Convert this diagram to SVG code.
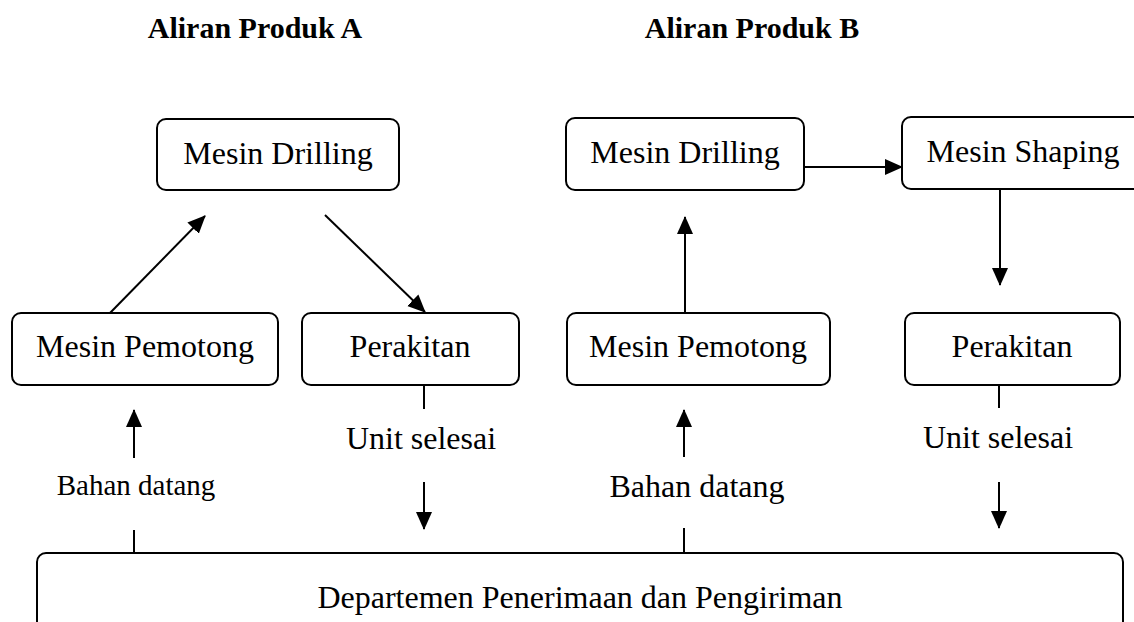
<svg xmlns="http://www.w3.org/2000/svg" width="1134" height="622" viewBox="0 0 1134 622">
<style>
.box{fill:#fff;stroke:#000;stroke-width:2}
.t{font-family:"Liberation Serif","Times New Roman",serif;font-size:32px;fill:#000;text-anchor:middle}
.s{font-size:29px}
.h{font-weight:bold;font-size:30px}
.c{stroke:#000;stroke-width:2;fill:none}
</style>
<defs>
<marker id="ah" markerUnits="userSpaceOnUse" markerWidth="18" markerHeight="18" viewBox="0 0 18 18" refX="17" refY="9" orient="auto">
<path d="M0,1 L18,9 L0,17 Z" fill="#000"/>
</marker>
</defs>
<rect width="1134" height="622" fill="#fff"/>
<text class="t h" x="255" y="38">Aliran Produk A</text>
<text class="t h" x="752" y="38">Aliran Produk B</text>
<g id="connectors">
<line class="c" x1="110" y1="313" x2="205" y2="216" marker-end="url(#ah)"/>
<line class="c" x1="325" y1="215" x2="425" y2="312" marker-end="url(#ah)"/>
<line class="c" x1="134" y1="458" x2="134" y2="410" marker-end="url(#ah)"/>
<line class="c" x1="134" y1="530" x2="134" y2="553"/>
<line class="c" x1="424" y1="385" x2="424" y2="409"/>
<line class="c" x1="424" y1="482" x2="424" y2="529" marker-end="url(#ah)"/>
<line class="c" x1="685" y1="313" x2="685" y2="217" marker-end="url(#ah)"/>
<line class="c" x1="804" y1="167" x2="902" y2="167" marker-end="url(#ah)"/>
<line class="c" x1="1000" y1="189" x2="1000" y2="285" marker-end="url(#ah)"/>
<line class="c" x1="684" y1="457" x2="684" y2="410" marker-end="url(#ah)"/>
<line class="c" x1="684" y1="528" x2="684" y2="553"/>
<line class="c" x1="999" y1="385" x2="999" y2="408"/>
<line class="c" x1="999" y1="482" x2="999" y2="528" marker-end="url(#ah)"/>
</g>
<g id="drillA"><rect class="box" x="157" y="119" width="242" height="71" rx="9"/><text class="t" x="278" y="164">Mesin Drilling</text></g>
<g id="potongA"><rect class="box" x="12" y="313" width="266" height="72" rx="9"/><text class="t" x="145" y="357">Mesin Pemotong</text></g>
<g id="rakitA"><rect class="box" x="302" y="313" width="217" height="72" rx="9"/><text class="t" x="410" y="357">Perakitan</text></g>
<g id="drillB"><rect class="box" x="566" y="118" width="238" height="72" rx="9"/><text class="t" x="685" y="163">Mesin Drilling</text></g>
<g id="shapeB"><rect class="box" x="902" y="117" width="240" height="72" rx="9"/><text class="t" x="1023" y="162">Mesin Shaping</text></g>
<g id="potongB"><rect class="box" x="567" y="313" width="263" height="72" rx="9"/><text class="t" x="698" y="357">Mesin Pemotong</text></g>
<g id="rakitB"><rect class="box" x="905" y="313" width="215" height="72" rx="9"/><text class="t" x="1012" y="357">Perakitan</text></g>
<g id="labels">
<text class="t s" x="136" y="495">Bahan datang</text>
<text class="t" x="697" y="497">Bahan datang</text>
<text class="t" x="421" y="449">Unit selesai</text>
<text class="t" x="998" y="448">Unit selesai</text>
</g>
<g id="dept"><rect class="box" x="37" y="553" width="1086" height="90" rx="9"/><text class="t" x="580" y="608">Departemen Penerimaan dan Pengiriman</text></g>
</svg>
